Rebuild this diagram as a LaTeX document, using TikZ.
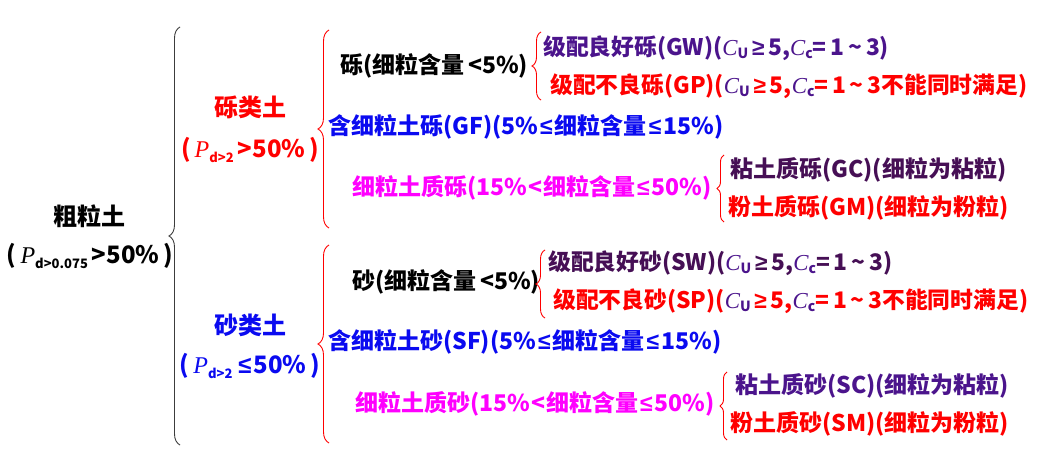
\documentclass[tikz,border=0pt]{standalone}
\usepackage{fontspec}
\setmainfont{Noto Sans CJK SC}
\newfontfamily\serifit{Liberation Serif}
\newfontfamily\symf{Liberation Sans}
\usetikzlibrary{decorations.pathreplacing}
\definecolor{soilred}{RGB}{255,0,0}
\definecolor{soilblue}{RGB}{10,10,240}
\definecolor{soilmag}{RGB}{255,0,255}
\definecolor{soilindigo}{RGB}{75,20,140}
\definecolor{soilplum}{RGB}{70,15,85}
\definecolor{soilgray}{RGB}{60,60,60}
% coefficient and particle symbols
\newcommand{\Cs}[1]{{\color{soilindigo}{\serifit\itshape\mdseries C}\raisebox{-0.3ex}{\fontsize{14}{14}\selectfont #1}}}
\newcommand{\Pd}[1]{{\serifit\itshape\mdseries P}\raisebox{-0.35ex}{\fontsize{13}{13}\selectfont #1}}
\newcommand{\tl}{\textasciitilde}
\newcommand{\lee}{{\symf\hspace{2pt}≤\hspace{2pt}}}
\newcommand{\gee}{{\symf\,≥\,}}

\begin{document}
\begin{tikzpicture}[
  x=1pt, y=-1pt,
  every node/.style = {inner sep=0pt},
  head/.style = {anchor=center, font=\fontsize{24}{28}\selectfont\bfseries},
  row/.style  = {anchor=west, font=\fontsize{23}{28}\selectfont\bfseries},
  sub/.style  = {anchor=west, font=\fontsize{22.8}{26}\selectfont\bfseries},
  curly/.style = {decorate, decoration={brace, amplitude=#1}, line width=0.9pt}
]
\useasboundingbox[fill=white] (0,0) rectangle (1059,454);

%% ---- root ----
\node[head] (coarse) at (89,216) {粗粒土};
\node[head] (coarsecond) at (90,256) {(\,\Pd{d>0.075}\,>50\%\,)};
\draw[curly=11pt, soilgray] (180,445) -- (180,27);

%% ---- gravel ----
\node[head, text=soilred] (gravel) at (250,107) {砾类土};
\node[head, text=soilred] (gravelcond) at (250,150) {(\,\Pd{d>2}\,>50\%\,)};
\draw[curly=11pt, soilred] (329,228) -- (329,30);

\node[row] (gclean) at (340,66) {砾(细粒含量\,<5\%)};
\draw[curly=9pt, soilred] (541,100) -- (541,32);
\node[sub, text=soilindigo] (gwell) at (543,48) {级配良好砾(GW)(\Cs{U}\gee{}5,\Cs{c}=\,1\,\tl\,3)};
\node[sub, text=soilred] (gpoor) at (550,86) {级配不良砾(GP)(\Cs{U}\gee{}5,\Cs{c}=\,1\,\tl\,3不能同时满足)};

\node[row, text=soilblue] (gf) at (328,127) {含细粒土砾(GF)(5\%\lee{}细粒含量\lee{}15\%)};

\node[row, text=soilmag] (gfine) at (352,188) {细粒土质砾(15\%\hspace{1pt}<\hspace{1pt}细粒含量\lee{}50\%)};
\draw[curly=7pt, soilred] (724,222) -- (724,155);
\node[row, text=soilplum] (gc) at (730,170) {粘土质砾(GC)(细粒为粘粒)};
\node[row, text=soilred] (gm) at (728,208) {粉土质砾(GM)(细粒为粉粒)};

%% ---- sand ----
\node[head, text=soilblue] (sand) at (250,325) {砂类土};
\node[head, text=soilblue] (sandcond) at (250,366) {(\,\Pd{d>2}\,\lee{}50\%\,)};
\draw[curly=11pt, soilred] (329,443) -- (329,245);

\node[row] (sclean) at (352,282) {砂(细粒含量\,<5\%)};
\draw[curly=9pt, soilred] (545,318) -- (545,250);
\node[sub, text=soilplum] (swell) at (548,263) {级配良好砂(SW)(\Cs{U}\gee{}5,\Cs{c}=\,1\,\tl\,3)};
\node[sub, text=soilred] (spoor) at (553,301) {级配不良砂(SP)(\Cs{U}\gee{}5,\Cs{c}=\,1\,\tl\,3不能同时满足)};

\node[row, text=soilblue] (sf) at (328,342) {含细粒土砂(SF)(5\%\lee{}细粒含量\lee{}15\%)};

\node[row, text=soilmag] (sfine) at (355,404) {细粒土质砂(15\%\hspace{1pt}<\hspace{1pt}细粒含量\lee{}50\%)};
\draw[curly=7pt, soilred] (727,440) -- (727,372);
\node[row, text=soilindigo] (sc) at (735,386) {粘土质砂(SC)(细粒为粘粒)};
\node[row, text=soilred] (sm) at (730,424) {粉土质砂(SM)(细粒为粉粒)};
\end{tikzpicture}
\end{document}
